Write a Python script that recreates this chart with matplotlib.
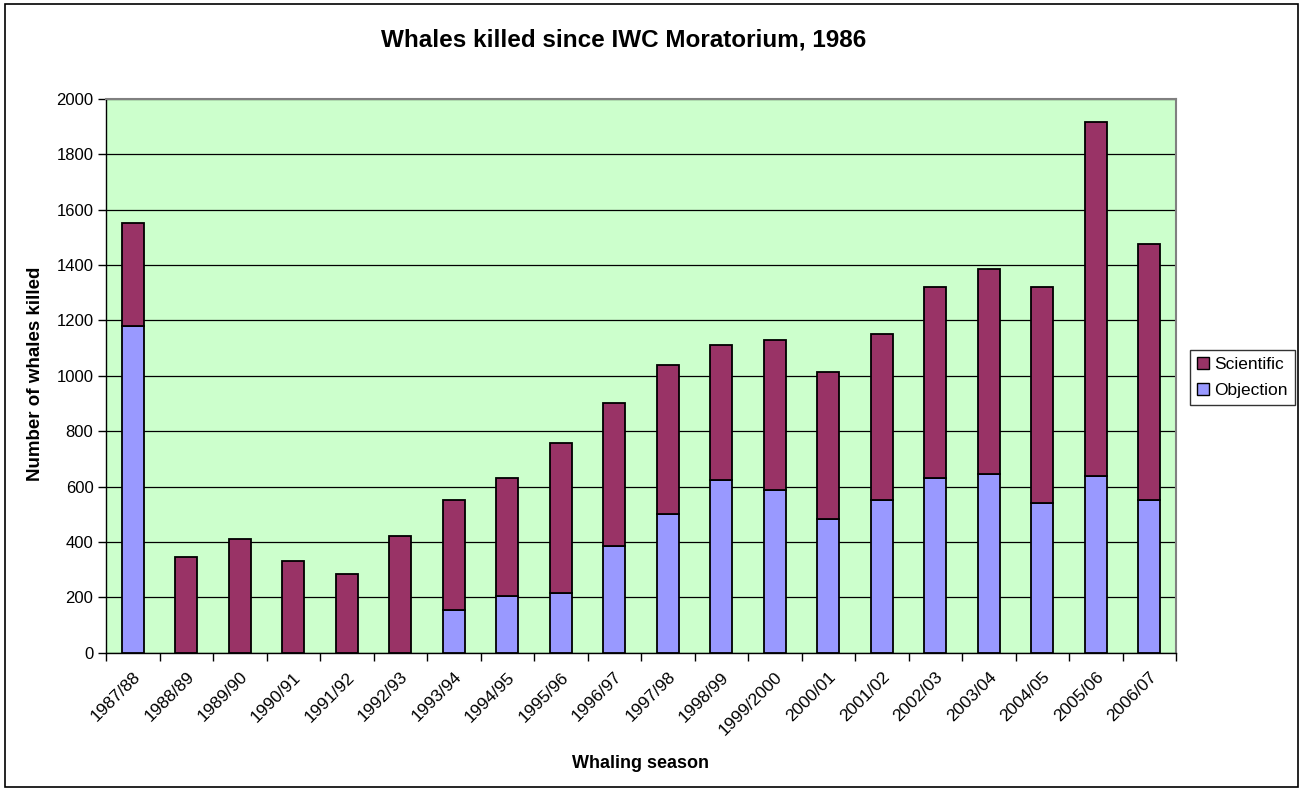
import matplotlib
matplotlib.use("Agg")
import matplotlib.pyplot as plt
from matplotlib.patches import Patch, Rectangle
from matplotlib.transforms import ScaledTranslation
import numpy as np

plt.rcParams['font.family'] = ['Liberation Sans', 'DejaVu Sans']

seasons = ["1987/88", "1988/89", "1989/90", "1990/91", "1991/92", "1992/93",
           "1993/94", "1994/95", "1995/96", "1996/97", "1997/98", "1998/99",
           "1999/2000", "2000/01", "2001/02", "2002/03", "2003/04", "2004/05",
           "2005/06", "2006/07"]
objection = [1180, 0, 0, 0, 0, 0, 154, 204, 215, 385, 502, 623, 588, 484,
             550, 631, 644, 542, 637, 550]
scientific = [372, 346, 412, 330, 285, 421, 399, 426, 541, 518, 537, 489,
              540, 530, 600, 690, 742, 780, 1281, 926]
y_ticks = [0, 200, 400, 600, 800, 1000, 1200, 1400, 1600, 1800, 2000]

W, H = 1304, 790
fig = plt.figure(figsize=(W / 100, H / 100), dpi=100)
fig.patch.set_facecolor('white')

# outer frame
fig.add_artist(Rectangle((5 / W, 3 / H), (1298 - 5) / W, (786 - 3) / H,
                         transform=fig.transFigure, fill=False,
                         edgecolor='black', linewidth=1.2))

ax = fig.add_axes([106 / W, 1 - 652.7 / H, (1176 - 106) / W, (652.7 - 98.9) / H])
ax.set_facecolor('#CCFFCC')

x = np.arange(len(seasons))
bw = 0.41
ax.bar(x, objection, bw, color='#9999FF', edgecolor='black', linewidth=1.3,
       label='Objection', zorder=3)
ax.bar(x, scientific, bw, bottom=objection, color='#993366', edgecolor='black',
       linewidth=1.3, label='Scientific', zorder=3)

ax.set_xlim(-0.5, len(seasons) - 0.5)
ax.set_ylim(0, 2000)
ax.set_yticks(y_ticks)
ax.set_yticklabels([str(v) for v in y_ticks], fontsize=12)
ax.yaxis.grid(True, color='black', linewidth=0.9, zorder=1)
ax.set_axisbelow(True)

ax.set_xticks(x)
ax.set_xticklabels(seasons, rotation=45, ha='right', va='top',
                   rotation_mode='anchor', fontsize=12.5)
offset = ScaledTranslation(-0.07, 0, fig.dpi_scale_trans)
for lab in ax.get_xticklabels():
    lab.set_transform(lab.get_transform() + offset)
ax.tick_params(axis='x', which='major', length=0, pad=12)
ax.set_xticks(np.arange(-0.5, len(seasons), 1), minor=True)
ax.tick_params(axis='x', which='minor', length=6, width=1, direction='out')
ax.tick_params(axis='y', length=6, width=1, direction='out', pad=3)

for s in ['top', 'right']:
    ax.spines[s].set_color('#808080')
    ax.spines[s].set_linewidth(1.5)
for s in ['left', 'bottom']:
    ax.spines[s].set_color('black')
    ax.spines[s].set_linewidth(1)

fig.text(624 / W, 1 - 40 / H, 'Whales killed since IWC Moratorium, 1986',
         ha='center', va='center', fontsize=17.5, fontweight='bold')
fig.text(36 / W, 1 - 374 / H, 'Number of whales killed', rotation=90,
         ha='center', va='center', fontsize=13.5, fontweight='bold')
fig.text(641 / W, 1 - 763 / H, 'Whaling season', ha='center', va='center',
         fontsize=13, fontweight='bold')

handles = [Patch(facecolor='#993366', edgecolor='black', label='Scientific'),
           Patch(facecolor='#9999FF', edgecolor='black', label='Objection')]
leg = fig.legend(handles=handles, loc='upper left',
                 bbox_to_anchor=(1190 / W, 1 - 350 / H), fontsize=12.5,
                 frameon=True, fancybox=False, edgecolor='black',
                 handlelength=0.7, handleheight=0.7, handletextpad=0.3,
                 borderpad=0.4, labelspacing=0.6, borderaxespad=0)
leg.get_frame().set_linewidth(1)

fig.savefig('out.png', dpi=100, facecolor='white')
